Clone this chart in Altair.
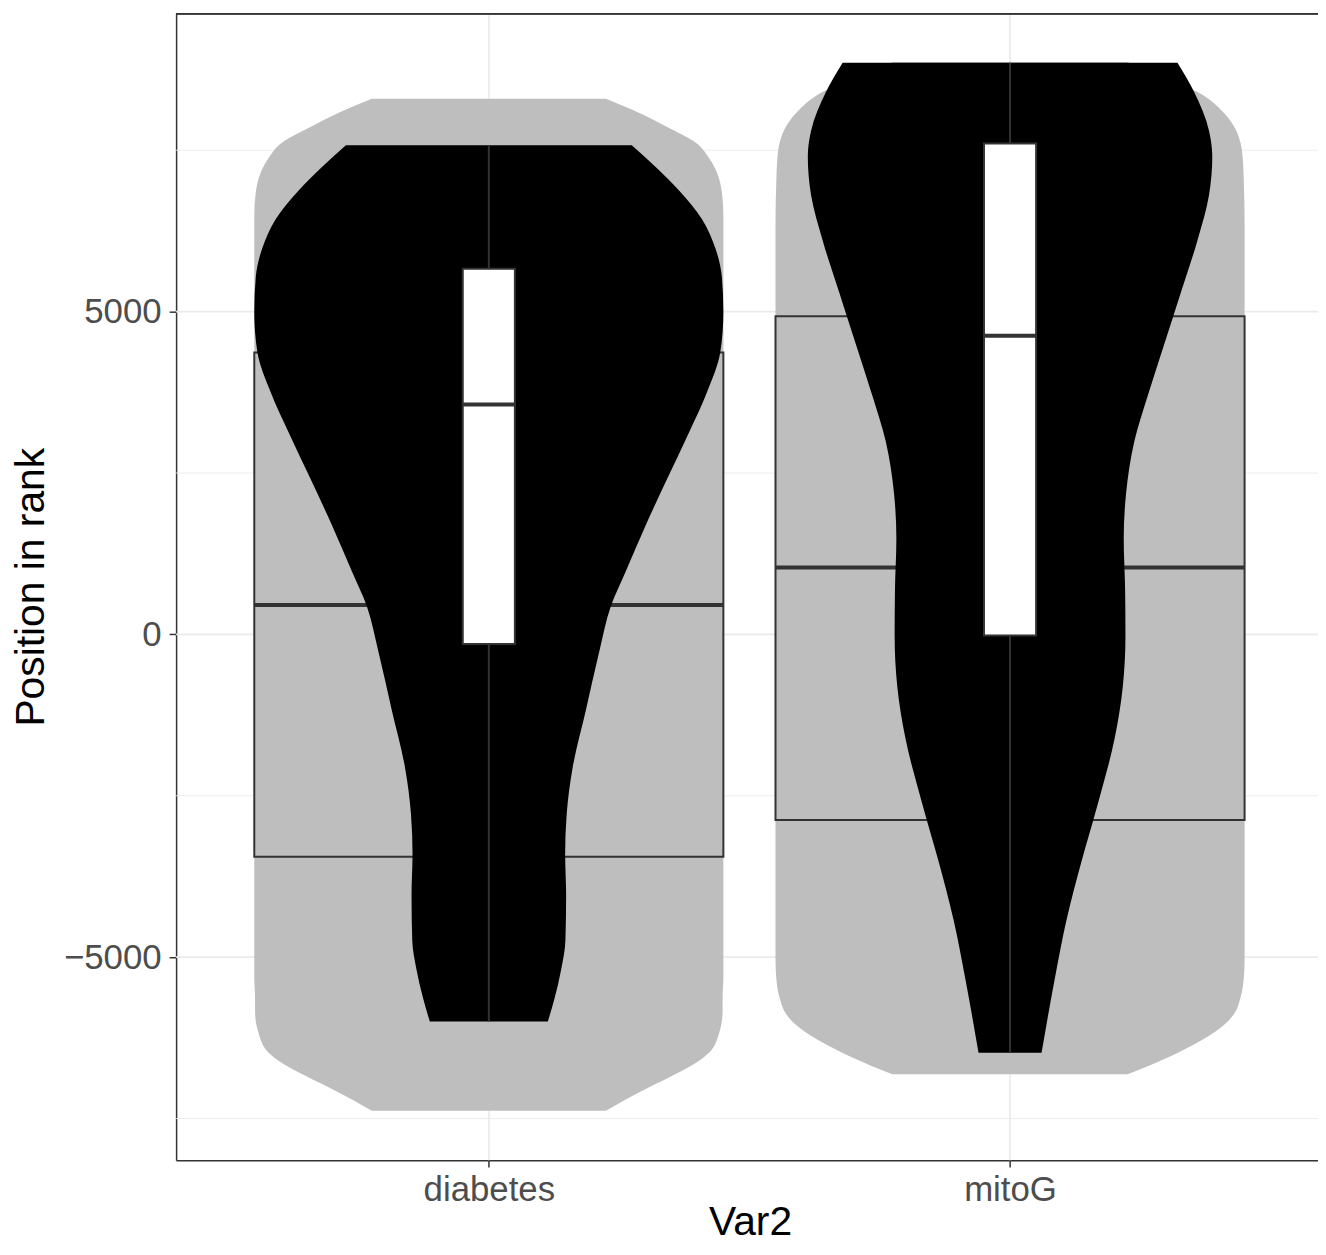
import altair as alt
import pandas as pd

# ---------------- data ----------------
groups = ["diabetes", "mitoG"]
centers = [1, 2]

# outer grey violins: y value and half-width (in category units)
diab_gray_y = [8298, 8082, 7820, 7619, 7388, 7157, 6849, 6490, 0, -5324, -5632, -5832, -6202, -6428, -6607, -6838, -7096, -7378]
diab_gray_hw = [0.2246, 0.288, 0.3517, 0.3964, 0.4218, 0.4376, 0.4471, 0.45, 0.45, 0.45, 0.4485, 0.4485, 0.4408, 0.428, 0.4027, 0.3517, 0.288, 0.2246]

mito_gray_y = [8867, 8652, 8390, 8133, 7877, 7619, 7311, 7003, 6387, 0, -5015, -5323, -5632, -5889, -6094, -6325, -6530, -6813]
mito_gray_hw = [0.225, 0.29, 0.3626, 0.404, 0.4294, 0.442, 0.447, 0.4485, 0.45, 0.45, 0.45, 0.4485, 0.442, 0.429, 0.404, 0.359, 0.309, 0.2258]

# inner black violins
diab_black_y = [7576, 7237, 6880, 6433, 5986, 5539, 5000, 4376, 3752, 3120, 2411, 1692, 978, 439, -270, -1163, -2057, -2781, -3405, -4029, -4746, -5193, -5641, -5998]
diab_black_hw = [0.2742, 0.3206, 0.3645, 0.409, 0.4345, 0.4471, 0.45, 0.4441, 0.4185, 0.3836, 0.3422, 0.301, 0.2628, 0.2342, 0.2118, 0.1865, 0.1609, 0.1494, 0.1464, 0.1483, 0.1469, 0.1387, 0.126, 0.1132]

mito_black_y = [8855, 8405, 7804, 7403, 6803, 6099, 5297, 4495, 3693, 2991, 2190, 1487, 686, -17, -818, -1621, -2622, -3525, -4427, -5330, -6482]
mito_black_hw = [0.3212, 0.353, 0.3817, 0.388, 0.3817, 0.3594, 0.3277, 0.2958, 0.264, 0.2385, 0.2227, 0.2181, 0.2208, 0.2214, 0.2162, 0.2004, 0.1685, 0.1368, 0.1082, 0.0859, 0.0605]

# grey (wide) boxplots
gray_q1 = [-3444, -2874]
gray_med = [455, 1037]
gray_q3 = [4368, 4930]

# white (narrow) boxplots
white_q1 = [-150, -17]
white_med = [3560, 4626]
white_q3 = [5663, 7603]
white_lo = [-5998, -6482]
white_hi = [7576, 8855]

# axis ticks / grid
y_ticks = [-5000, 0, 5000]
y_minor = [-7500, -2500, 2500, 7500]

# ---------------- layout / style ----------------
W, H = 1148, 1153
FONT = "Liberation Sans"
GRID = "#EBEBEB"
DARK = "#333333"
GREY = "#BEBEBE"
wide_half = 0.45
narrow_half = 0.05


def violin(name, c, ys, hws):
    return pd.DataFrame({"grp": name, "y": ys,
                         "lo": [c - h for h in hws], "hi": [c + h for h in hws]})


gray_v = pd.concat([violin(groups[0], centers[0], diab_gray_y, diab_gray_hw),
                    violin(groups[1], centers[1], mito_gray_y, mito_gray_hw)])
black_v = pd.concat([violin(groups[0], centers[0], diab_black_y, diab_black_hw),
                     violin(groups[1], centers[1], mito_black_y, mito_black_hw)])

gbox = pd.DataFrame({"grp": groups, "c": centers, "q1": gray_q1, "med": gray_med, "q3": gray_q3})
gbox["lo"] = gbox["c"] - wide_half
gbox["hi"] = gbox["c"] + wide_half
wbox = pd.DataFrame({"grp": groups, "c": centers, "q1": white_q1, "med": white_med, "q3": white_q3,
                     "wlo": white_lo, "whi": white_hi})
wbox["lo"] = wbox["c"] - narrow_half
wbox["hi"] = wbox["c"] + narrow_half

xs = alt.Scale(domain=[0.4, 0.4 + W / 524.0], nice=False, zero=False)
ys = alt.Scale(domain=[-8144, 9622], nice=False, zero=False)

label_expr = "datum.value == 1 ? '%s' : '%s'" % (groups[0], groups[1])
xax = alt.Axis(values=centers, labelExpr=label_expr, title="Var2", grid=False,
               labelFontSize=35, labelColor="#4D4D4D", labelPadding=6,
               tickSize=7, tickColor=DARK, tickWidth=1.5,
               domainColor=DARK, domainWidth=1.5,
               titleFontSize=41, titleFontWeight="normal", titleColor="black",
               titleBaseline="alphabetic", titleY=75, titleX=577,
               labelFont=FONT, titleFont=FONT)
yax = alt.Axis(values=y_ticks, format="d", title="Position in rank", grid=False,
               labelFontSize=35, labelColor="#4D4D4D", labelPadding=8,
               tickSize=7, tickColor=DARK, tickWidth=1.5,
               domainColor=DARK, domainWidth=1.5,
               titleFontSize=41, titleFontWeight="normal", titleColor="black",
               titleBaseline="alphabetic", titleX=-133,
               labelFont=FONT, titleFont=FONT)

X = lambda f: alt.X(f, type="quantitative", scale=xs, axis=xax)
Y = lambda f: alt.Y(f, type="quantitative", scale=ys, axis=yax)

minor_df = pd.DataFrame({"v": y_minor})
major_df = pd.DataFrame({"v": y_ticks})
vgrid_df = pd.DataFrame({"v": centers})

minor = alt.Chart(minor_df).mark_rule(color=GRID, strokeWidth=0.9).encode(y=Y("v"))
major = alt.Chart(major_df).mark_rule(color=GRID, strokeWidth=1.8).encode(y=Y("v"))
vgrid = alt.Chart(vgrid_df).mark_rule(color=GRID, strokeWidth=1.8).encode(x=X("v"))

gray_area = alt.Chart(gray_v).mark_area(orient="horizontal", interpolate="monotone", color=GREY).encode(
    y=Y("y"), x=X("lo"), x2="hi", detail="grp:N")
gray_box = alt.Chart(gbox).mark_rect(fill=GREY, stroke=DARK, strokeWidth=2).encode(
    x=X("lo"), x2="hi", y=Y("q1"), y2="q3")
gray_med_l = alt.Chart(gbox).mark_rule(color=DARK, strokeWidth=4).encode(
    x=X("lo"), x2="hi", y=Y("med"))

black_area = alt.Chart(black_v).mark_area(orient="horizontal", interpolate="monotone", color="black").encode(
    y=Y("y"), x=X("lo"), x2="hi", detail="grp:N")
whisk = alt.Chart(wbox).mark_rule(color=DARK, strokeWidth=2).encode(
    x=X("c"), y=Y("wlo"), y2="whi")
white_box = alt.Chart(wbox).mark_rect(fill="white", stroke=DARK, strokeWidth=2).encode(
    x=X("lo"), x2="hi", y=Y("q1"), y2="q3")
white_med_l = alt.Chart(wbox).mark_rule(color=DARK, strokeWidth=4).encode(
    x=X("lo"), x2="hi", y=Y("med"))

top_border = alt.Chart(major_df).mark_rule(color=DARK, strokeWidth=1.5).encode(
    x=alt.value(0), x2=alt.value(W), y=alt.value(0.5))

chart = alt.layer(
    minor, major, vgrid, gray_area, gray_box, gray_med_l,
    black_area, whisk, white_box, white_med_l, top_border
).properties(
    width=W, height=H,
    autosize=alt.AutoSizeParams(type="none"),
    padding={"left": 169, "top": 2, "right": 0, "bottom": 84},
).configure_view(stroke=None)

chart.save("out.html", embed_options={"renderer": "svg", "actions": False})
